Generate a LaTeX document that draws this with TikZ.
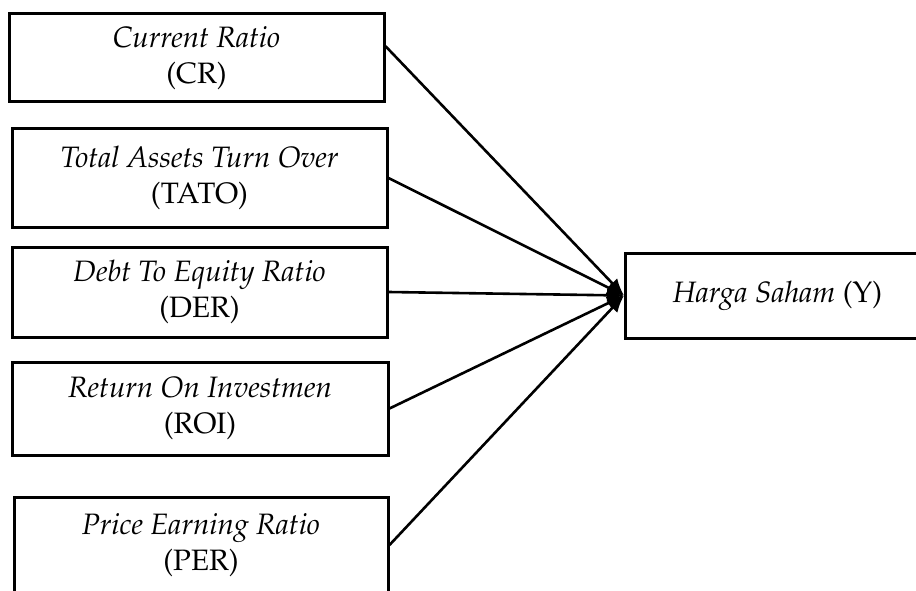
\documentclass[tikz,border=0pt]{standalone}
\usepackage[T1]{fontenc}
\usepackage{mathpazo}
\usetikzlibrary{arrows.meta,calc}
\begin{document}
\begin{tikzpicture}[x=1pt,y=-1pt,
  box/.style={draw, line width=3pt, align=center, inner sep=0pt,
    font=\fontsize{29.5}{36}\selectfont},
  link/.style={line width=2.6pt, -{Latex[length=17pt,width=14pt]}}]
\useasboundingbox (0,0) rectangle (916,591);
\node[box, minimum width=375pt, minimum height=88pt] (cr) at (196.5,58) {\textit{Current Ratio}\\(CR)};
\node[box, minimum width=375pt, minimum height=98pt] (tato) at (199.5,178) {\textit{Total Assets Turn Over}\\(TATO)};
\node[box, minimum width=375pt, minimum height=90pt] (der) at (199.5,292) {\textit{Debt To Equity Ratio}\\(DER)};
\node[box, minimum width=376pt, minimum height=93pt] (roi) at (200,408.5) {\textit{Return On Investmen}\\(ROI)};
\node[box, minimum width=374pt, minimum height=96pt] (per) at (201,545) {\textit{Price Earning Ratio}\\(PER)};
\node[box, minimum width=304pt, minimum height=85pt, anchor=west] (y) at (624,295.5) {\textit{Harga Saham} (Y)};
\coordinate (crout) at ($(cr.north east)!0.37!(cr.south east)$);
\draw[link] (crout) -- (y.west);
\draw[link] (tato.east) -- (y.west);
\draw[link] (der.east) -- (y.west);
\draw[link] (roi.east) -- (y.west);
\draw[link] (per.east) -- (y.west);
\end{tikzpicture}
\end{document}
